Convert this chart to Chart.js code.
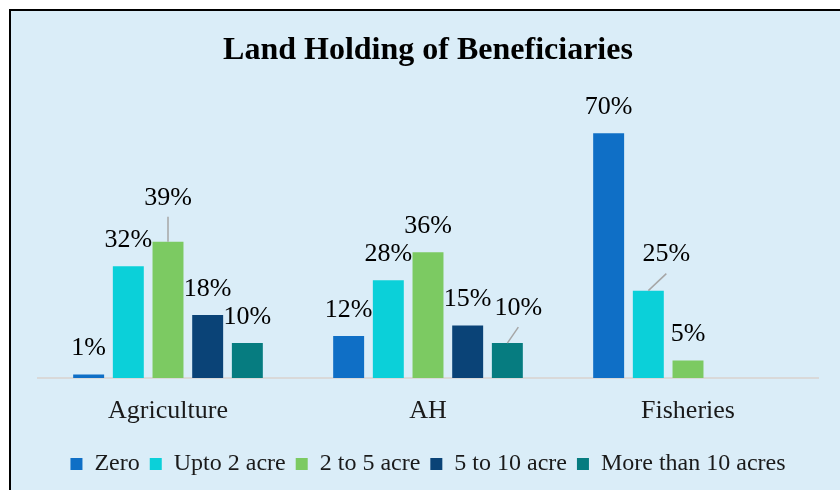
<!DOCTYPE html>
<html>
<head>
<meta charset="utf-8">
<script src="https://cdn.jsdelivr.net/npm/chart.js@4.4.1/dist/chart.umd.min.js"></script>
<style>
  html, body { margin: 0; padding: 0; background: #fff; }
  #frame {
    position: absolute; left: 9px; top: 9px;
    width: 829px; height: 479px;
    border-top: 2px solid #000; border-left: 2px solid #000;
    background: #DAEDF8;
  }
</style>
</head>
<body>
<div id="frame"><canvas id="landChart"></canvas></div>
<script>
// chart data
const categories = ['Agriculture', 'AH', 'Fisheries'];
const seriesNames = ['Zero', 'Upto 2 acre', '2 to 5 acre', '5 to 10 acre', 'More than 10 acres'];
const zeroAcre = [1, 12, 70];
const upto2Acre = [32, 28, 25];
const twoTo5Acre = [39, 36, 5];
const fiveTo10Acre = [18, 15, null];
const moreThan10Acre = [10, 10, null];

const seriesColors = ['#0F6FC6', '#0BD0D9', '#7CCA62', '#0A4377', '#067C80'];
const FONT = "'Liberation Serif', 'Times New Roman', serif";

// labels that were moved off the bar in the original (dataset-index : [dx, dy])
const labelNudge = { '2-0': [0, -18], '4-1': [11, -9], '1-2': [18, -10] };

const valueLabels = {
  id: 'valueLabels',
  afterDatasetsDraw(chart) {
    const ctx = chart.ctx;
    ctx.save();
    ctx.font = '26px ' + FONT;
    ctx.fillStyle = '#000';
    ctx.textAlign = 'center';
    ctx.textBaseline = 'middle';
    chart.data.datasets.forEach((ds, di) => {
      const meta = chart.getDatasetMeta(di);
      meta.data.forEach((bar, i) => {
        const v = ds.data[i];
        if (v === null || v === undefined) return;
        const nudge = labelNudge[di + '-' + i];
        let x = bar.x, y = bar.y - 26;
        if (nudge) {
          x += nudge[0];
          y += nudge[1];
          ctx.strokeStyle = '#A6A6A6';
          ctx.lineWidth = 1.5;
          ctx.beginPath();
          ctx.moveTo(bar.x, bar.y);
          ctx.lineTo(x, y + 19);
          ctx.stroke();
        }
        ctx.fillText(v + '%', x, y);
      });
    });
    ctx.restore();
  }
};

const allSeries = [zeroAcre, upto2Acre, twoTo5Acre, fiveTo10Acre, moreThan10Acre];

new Chart(document.getElementById('landChart'), {
  type: 'bar',
  data: {
    labels: categories,
    datasets: allSeries.map((vals, k) => ({
      label: seriesNames[k],
      data: vals,
      backgroundColor: seriesColors[k],
      categoryPercentage: 0.763,
      barPercentage: 0.78
    }))
  },
  options: {
    responsive: true,
    maintainAspectRatio: false,
    animation: false,
    layout: { padding: { left: 27, right: 22, top: 0, bottom: 4 } },
    plugins: {
      title: {
        display: true,
        text: 'Land Holding of Beneficiaries',
        color: '#000',
        font: { family: FONT, size: 32, weight: 'bold' },
        padding: { top: 21, bottom: 28 }
      },
      legend: {
        position: 'bottom',
        labels: {
          color: '#1a1a1a',
          font: { family: FONT, size: 24 },
          boxWidth: 12,
          boxHeight: 12,
          padding: 10
        }
      },
      tooltip: { enabled: false }
    },
    scales: {
      x: {
        grid: { display: false, drawTicks: false },
        border: { display: true, color: '#D9D9D9', width: 2 },
        ticks: { color: '#1a1a1a', font: { family: FONT, size: 26 }, padding: 18 },
        afterFit(scale) { scale.height = 64; }
      },
      y: { display: false, min: 0, max: 80 }
    }
  },
  plugins: [valueLabels]
});
</script>
</body>
</html>
